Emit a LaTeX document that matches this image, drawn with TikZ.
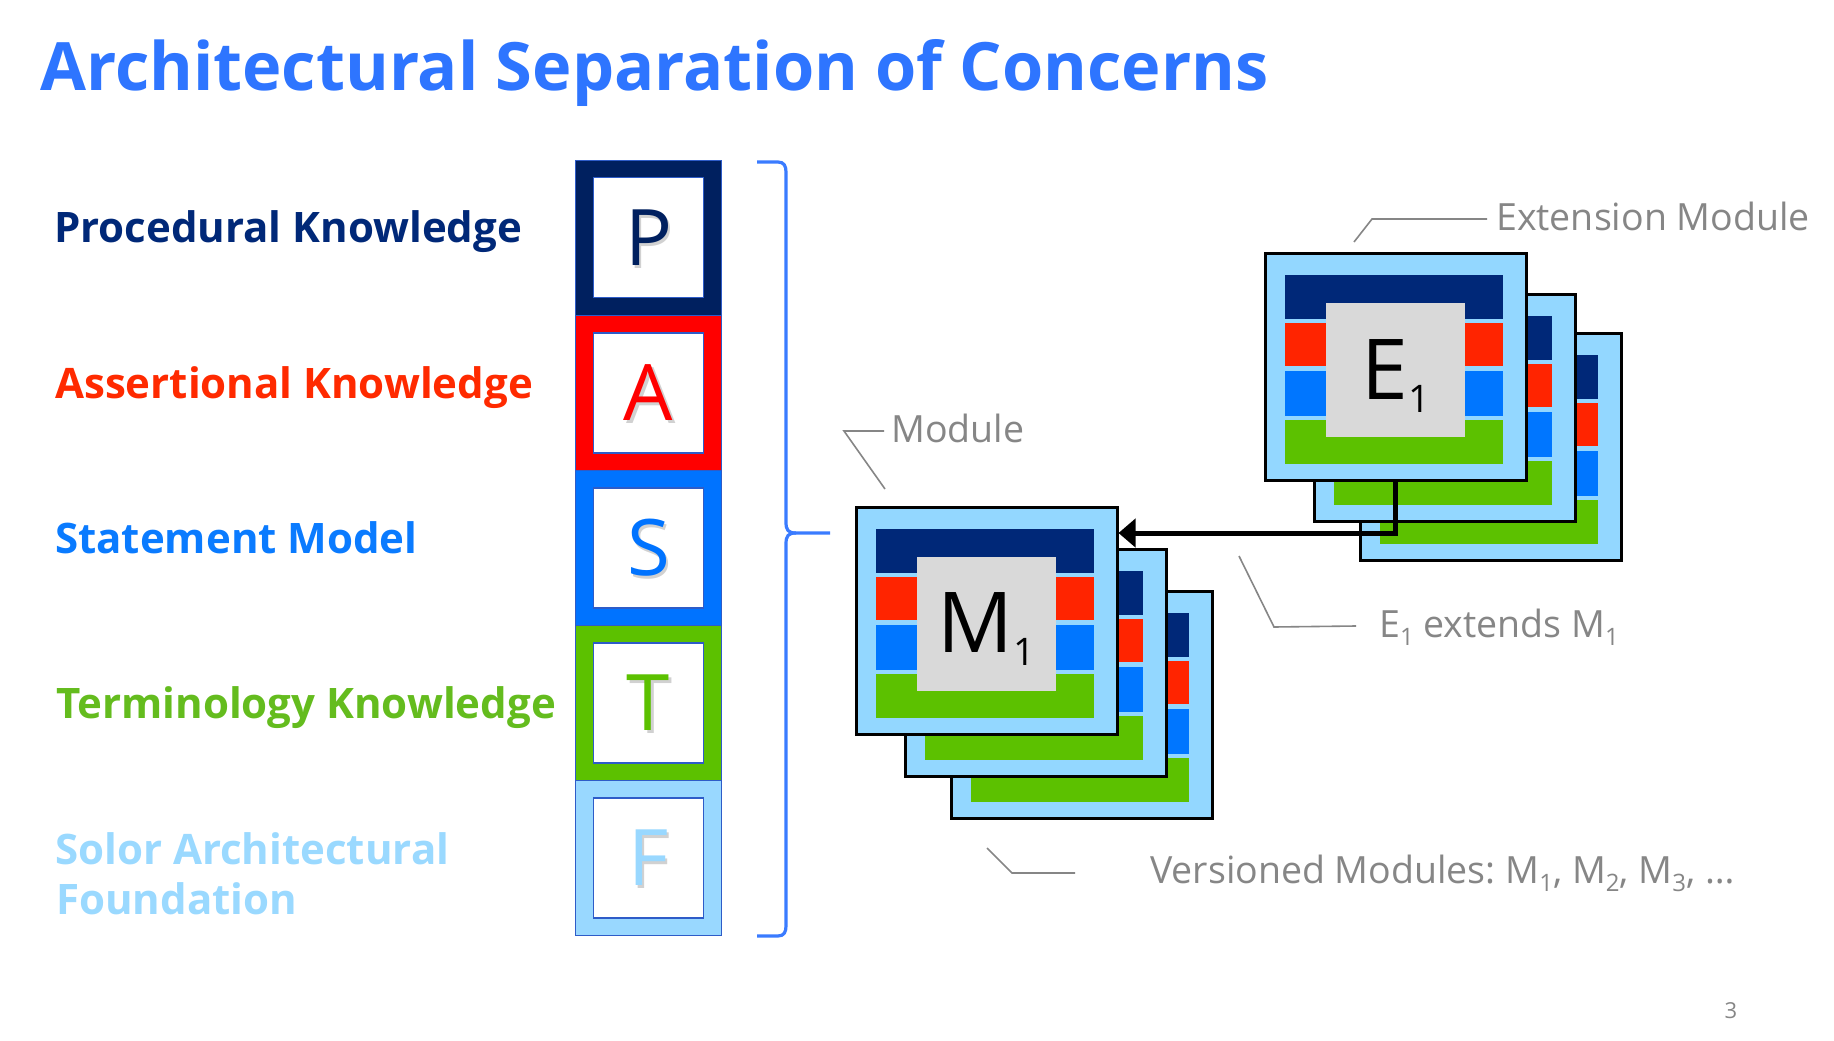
\documentclass[tikz,border=0pt]{standalone}
\usepackage{fontspec}
\setmainfont{Open Sans}
\usetikzlibrary{arrows.meta}

% palette
\definecolor{titleblue}{HTML}{2E75FF}
\definecolor{navyS}{HTML}{00205F}
\definecolor{redS}{HTML}{FF0000}
\definecolor{blueS}{HTML}{0073FF}
\definecolor{greenS}{HTML}{5CC100}
\definecolor{lightS}{HTML}{99D8FF}
\definecolor{edgeblue}{HTML}{2E5CC8}
\definecolor{navyM}{HTML}{002878}
\definecolor{redM}{HTML}{FF2400}
\definecolor{blueM}{HTML}{0076FF}
\definecolor{greenM}{HTML}{5CC100}
\definecolor{frameM}{HTML}{93D7FF}
\definecolor{coreM}{HTML}{D9D9D9}
\definecolor{labNavy}{HTML}{002878}
\definecolor{labRed}{HTML}{FF2A00}
\definecolor{labBlue}{HTML}{0A7BFF}
\definecolor{labGreen}{HTML}{64BC1E}
\definecolor{labLight}{HTML}{9AD9FF}
\definecolor{callgray}{HTML}{868686}
\definecolor{bracecol}{HTML}{3A7BFF}

\newcommand\fsz[1]{\fontsize{#1}{#1}\selectfont}
\newcommand\lowsub[1]{\raisebox{-8pt}{\fsz{24}#1}}

\tikzset{
  segbox/.style={draw=edgeblue, line width=1.2pt, minimum width=146pt,
    minimum height=155.1pt, inner sep=0pt},
  letterbox/.style={draw=edgeblue, line width=1.5pt, fill=white,
    minimum width=110pt, minimum height=120pt, inner sep=0pt,
    font=\fsz{78}},
  lettershade/.style={inner sep=0pt, font=\fsz{78}, text=black, opacity=0.18},
  sidelabel/.style={anchor=base west, inner sep=0pt, font=\fsz{42}\bfseries},
  calltext/.style={anchor=base west, inner sep=0pt, font=\fsz{37.5}, text=callgray},
  callline/.style={draw=callgray, line width=1.6pt},
  modlabel/.style={anchor=base, inner sep=0pt, text=black},
  modbox/.pic={
    \node[draw=black, line width=2.5pt, fill=frameM, minimum width=261pt,
      minimum height=227pt, anchor=north west, inner sep=0pt] (-frame) at (0,0) {};
    \fill[navyM]  (21,22.5) rectangle (239,66.5);
    \fill[redM]   (21,71)   rectangle (239,114);
    \fill[blueM]  (21,119)  rectangle (239,164);
    \fill[greenM] (21,168)  rectangle (239,212);
    \node[fill=coreM, minimum width=139pt, minimum height=134pt,
      anchor=north west, inner sep=0pt] (-core) at (62,51) {};
  }
}

\begin{document}
\begin{tikzpicture}[x=1pt,y=-1pt]
\useasboundingbox (0,0) rectangle (1834,1041);
\fill[white] (0,0) rectangle (1834,1041);

% heading
\node[anchor=base west, inner sep=0pt, font=\fsz{66.7}\bfseries, text=titleblue]
  (title) at (40,90) {Architectural Separation of Concerns};

% layer names
\node[sidelabel, text=labNavy]  (lP) at (54,242) {Procedural Knowledge};
\node[sidelabel, text=labRed]   (lA) at (55,398) {Assertional Knowledge};
\node[sidelabel, text=labBlue]  (lS) at (55,553) {Statement Model};
\node[sidelabel, text=labGreen] (lT) at (56,718) {Terminology Knowledge};
\node[sidelabel, text=labLight] (lF1) at (55,864) {Solor Architectural};
\node[sidelabel, text=labLight] (lF2) at (56,914) {Foundation};

% layer stack
\foreach \i/\L/\c in {0/P/navyS,1/A/redS,2/S/blueS,3/T/greenS,4/F/lightS}{
  \node[segbox, fill=\c] (seg\L) at (648.5,{237.7+155.1*\i}) {};
  \node[letterbox] (box\L) at (seg\L) {};
  \node[lettershade] (shade\L) at ([xshift=2.5pt,yshift=-2.5pt]box\L.center) {\L};
  \node[inner sep=0pt, font=\fsz{78}, text=\c] (let\L) at (box\L.center) {\L};
}

% curly brace spanning the stack
\draw[draw=bracecol, line width=3.2pt, line join=round]
  (757,162) -- (778,162) .. controls (784,162) and (786,166) .. (786,172)
  -- (786,522) .. controls (786,530) and (788,533) .. (796,533) -- (830,533);
\draw[draw=bracecol, line width=3.2pt, line join=round]
  (796,533) .. controls (788,533) and (786,536) .. (786,544)
  -- (786,926) .. controls (786,932) and (784,936) .. (778,936) -- (757,936);

% versioned modules
\pic (M3) at (950,590) {modbox};
\pic (M2) at (904,548) {modbox};
\pic (M1) at (855,506) {modbox};
\node[modlabel] (m1text) at ([yshift=-95pt]M1-core.north)
  {\fsz{84}M\raisebox{-13.5pt}{\fsz{38}1}};

% extension modules
\pic (E3) at (1359,332) {modbox};
\pic (E2) at (1313,293) {modbox};
\pic (E1) at (1264,252) {modbox};
\node[modlabel] (e1text) at ([yshift=-96pt]E1-core.north)
  {\fsz{84}E\raisebox{-13.5pt}{\fsz{38}1}};

% extension relation
\coordinate (bend) at (1395,533);
\draw[line width=5pt, -{Triangle[length=17pt,width=28pt]}]
  (E1-frame.south -| bend) -- (bend) -- (M1-frame.east |- bend);

% callouts
\coordinate (cExt) at (1487,219);
\draw[callline] (1354,242) -- (1372,219) -- (cExt);
\node[calltext] (tExt) at (1496,230) {Extension Module};

\coordinate (cMod) at (884,431);
\draw[callline] (885,489) -- (844,431) -- (cMod);
\node[calltext] (tMod) at (891,442) {Module};

\coordinate (cRel) at (1356,626);
\draw[callline] (1239,556) -- (1274,627) -- (cRel);
\node[calltext] (tRel) at (1379,637) {E\lowsub{1} extends M\lowsub{1}};

\coordinate (cVer) at (1075,873);
\draw[callline] (987,848) -- (1012,873) -- (cVer);
\node[calltext] (tVer) at (1150,883)
  {Versioned Modules:~M\lowsub{1}, M\lowsub{2}, M\lowsub{3}, \dots};

% slide number
\node[inner sep=0pt, font=\fsz{22}, text=callgray] (pnum) at (1731,1010.5) {3};
\end{tikzpicture}
\end{document}
